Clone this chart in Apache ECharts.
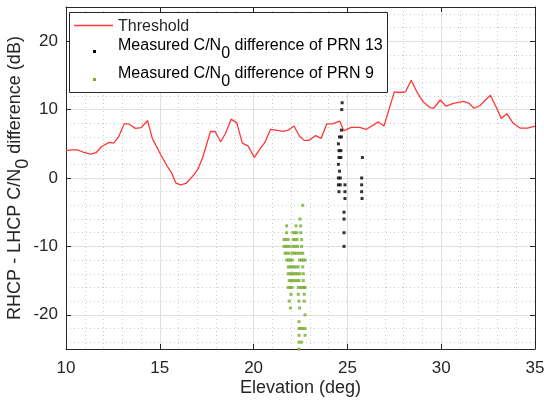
<!DOCTYPE html>
<html>
<head>
<meta charset="utf-8">
<script src="https://cdn.jsdelivr.net/npm/echarts@6.0.0/dist/echarts.min.js"></script>
<style>
  html, body { margin: 0; padding: 0; background: #fff; }
  #main { width: 544px; height: 400px; }
</style>
</head>
<body>
<div id="main"></div>
<script>
// threshold curve (elevation deg, dB)
var thresholdElev = [10.0, 10.3, 10.6, 10.9, 11.3, 11.6, 11.9, 12.3, 12.55, 12.8, 13.1, 13.35, 13.7, 14.0, 14.35, 14.6,
  15.05, 15.4, 15.6, 15.85, 16.1, 16.4, 16.6, 16.8, 17.05, 17.3, 17.7, 17.95, 18.25, 18.5, 18.8, 19.1, 19.4, 19.7,
  20.04, 20.35, 20.6, 20.9, 21.2, 21.55, 21.85, 22.15, 22.45, 22.7, 22.95, 23.3, 23.6, 23.9, 24.2, 24.6, 24.8,
  25.2, 25.65, 26.0, 26.65, 26.95, 27.5, 27.8, 28.1, 28.4, 28.7, 29.05, 29.4, 29.6, 29.95, 30.26, 30.65, 31.18,
  31.5, 31.75, 32.07, 32.62, 32.96, 33.2, 33.5, 33.84, 34.2, 34.6, 35.0];
var thresholdDiff = [4.0, 4.1, 4.1, 3.8, 3.5, 3.7, 4.6, 5.2, 5.1, 6.0, 7.9, 7.9, 7.25, 7.35, 8.4, 5.8,
  3.4, 1.7, 0.9, -0.7, -1.0, -0.8, -0.2, 0.4, 1.4, 3.1, 6.8, 6.8, 5.3, 6.5, 8.6, 8.1, 5.1, 4.7,
  3.0, 4.3, 5.2, 7.1, 7.0, 6.8, 7.0, 7.6, 6.1, 5.5, 5.5, 6.2, 5.8, 7.9, 7.9, 8.3, 6.9,
  7.4, 7.4, 7.1, 8.2, 7.6, 12.6, 12.5, 12.6, 14.3, 12.6, 11.1, 10.3, 10.2, 11.4, 10.5, 10.9, 11.2,
  10.9, 10.2, 10.6, 12.1, 10.2, 8.7, 9.4, 8.0, 7.3, 7.3, 7.6];

// PRN 13 measured difference
var prn13Elev = [24.72, 24.7, 24.68, 24.58, 24.68, 24.52, 24.55, 24.65, 24.55, 24.65, 25.8, 24.52, 24.58, 24.52, 24.62,
  25.76, 24.52, 24.62, 24.87, 25.76, 24.55, 24.87, 25.76, 24.87, 25.78, 24.82, 24.82, 24.82, 24.82];
var prn13Diff = [11, 10, 7, 6, 6, 5, 4, 4, 3, 3, 3, 2, 1, 0, 0,
  0, -1, -1, -1, -1, -2, -2, -2, -3, -3, -5, -6, -8, -10];

// PRN 9 measured difference, one row per dB level
var prn9Levels = [-4, -6, -7, -8, -9, -10, -11, -12, -13, -14, -15, -16, -17, -18, -19, -20, -21, -22, -23, -24, -25];
var prn9ElevRows = [
  [22.62],
  [22.47],
  [21.76, 22.26, 22.51],
  [21.76, 22.1, 22.2, 22.3, 22.51],
  [21.62, 21.72, 21.85, 22.12, 22.22, 22.32, 22.56],
  [21.62, 21.72, 21.82, 21.94, 22.12, 22.22, 22.35, 22.56],
  [21.68, 21.78, 21.9, 22.08, 22.18, 22.28, 22.4, 22.52, 22.62],
  [21.76, 21.86, 21.96, 22.06, 22.45, 22.55, 22.65, 22.74],
  [21.85, 21.95, 22.05, 22.15, 22.25, 22.38, 22.62],
  [21.85, 21.95, 22.05, 22.15, 22.25, 22.35, 22.47, 22.65],
  [21.9, 22.0, 22.1, 22.2, 22.32, 22.42, 22.65],
  [21.85, 21.95, 22.05, 22.38, 22.48, 22.58, 22.68, 22.74],
  [21.99, 22.38, 22.7],
  [21.9, 22.42, 22.7],
  [21.96, 22.45],
  [22.74],
  [22.42],
  [22.42, 22.52, 22.62, 22.74],
  [22.42, 22.74],
  [22.42, 22.56],
  [22.42]
];

var xTicks = [10, 15, 20, 25, 30, 35];

var zip = function (xs, ys) {
  var out = [];
  for (var i = 0; i < xs.length; i++) out.push([xs[i], ys[i]]);
  return out;
};
var prn9Data = [];
for (var r = 0; r < prn9Levels.length; r++) {
  for (var k = 0; k < prn9ElevRows[r].length; k++) prn9Data.push([prn9ElevRows[r][k], prn9Levels[r]]);
}

var ink = '#262626';
var font = 'Liberation Sans, Arial, sans-serif';
var majorGrid = { show: true, lineStyle: { color: '#dfdfdf', width: 1 } };
var minorGrid = { show: true, lineStyle: { color: '#cccccc', width: 1, type: [1, 3] } };
// MATLAB-like subscript: same size, shifted down by 8px
var subRich = function (size) {
  return {
    a: { fontSize: size, lineHeight: size, padding: [0, 0, 8, 0], fontFamily: font, color: ink },
    s: { fontSize: size, lineHeight: size, padding: [8, 0, 0, 0], fontFamily: font, color: ink }
  };
};
var edge = { show: true, onZero: false, lineStyle: { color: ink } };
var tick = { inside: true, length: 5, lineStyle: { color: ink } };

var option = {
  animation: false,
  backgroundColor: '#fff',
  grid: { left: 66, right: 9, top: 7, bottom: 51, outerBoundsMode: 'none', containLabel: false },
  xAxis: [{
    type: 'value', min: xTicks[0], max: xTicks[xTicks.length - 1], interval: 5,
    name: 'Elevation (deg)', nameLocation: 'middle', nameGap: 30, nameMoveOverlap: false,
    nameTextStyle: { fontSize: 18, fontFamily: font, color: ink },
    axisLine: edge, axisTick: tick,
    axisLabel: { fontSize: 17, fontFamily: font, color: ink, margin: 11 },
    splitLine: majorGrid,
    minorTick: { show: false, splitNumber: 5 },
    minorSplitLine: minorGrid
  }, {
    type: 'value', position: 'top', min: 10, max: 35, interval: 5,
    axisLine: edge, axisTick: tick,
    axisLabel: { show: false }, splitLine: { show: false }
  }],
  yAxis: [{
    type: 'value', min: -25, max: 25, splitNumber: 5,
    name: '{a|RHCP - LHCP C/N}{s|0}{a| difference (dB)}', nameLocation: 'middle', nameGap: 38, nameMoveOverlap: false,
    nameTextStyle: { rich: subRich(18) },
    axisLine: edge, axisTick: tick,
    axisLabel: { fontSize: 17, fontFamily: font, color: ink, margin: 8, showMinLabel: false, showMaxLabel: false },
    splitLine: majorGrid,
    minorTick: { show: false, splitNumber: 5 },
    minorSplitLine: minorGrid
  }, {
    type: 'value', position: 'right', min: -25, max: 25, splitNumber: 5,
    axisLine: edge, axisTick: tick,
    axisLabel: { show: false }, splitLine: { show: false }
  }],
  series: [{
    name: 'Threshold', type: 'line', data: zip(thresholdElev, thresholdDiff),
    showSymbol: false, symbol: 'none', lineStyle: { color: '#ff3838', width: 1.3 }, z: 3
  }, {
    name: 'PRN 13', type: 'scatter', data: zip(prn13Elev, prn13Diff),
    symbol: 'rect', symbolSize: 3, itemStyle: { color: '#000' }, z: 4
  }, {
    name: 'PRN 9', type: 'scatter', data: prn9Data,
    symbol: 'rect', symbolSize: 3, itemStyle: { color: '#77ac30' }, z: 4
  }],
  graphic: [
    { type: 'rect', z: 100, shape: { x: 69.5, y: 12.5, width: 318, height: 80 }, style: { fill: '#fff', stroke: ink, lineWidth: 1 } },
    { type: 'line', z: 101, shape: { x1: 74, y1: 25.5, x2: 113, y2: 25.5 }, style: { stroke: '#ff3838', lineWidth: 1.3 } },
    { type: 'text', z: 101, x: 118, y: 27, style: { text: 'Threshold', font: '16px ' + font, fill: ink, verticalAlign: 'middle' } },
    { type: 'rect', z: 101, shape: { x: 93, y: 50, width: 3, height: 3 }, style: { fill: '#000' } },
    { type: 'text', z: 101, x: 118, y: 42, style: { text: '{a|Measured C/N}{s|0}{a| difference of PRN 13}', rich: subRich(16), verticalAlign: 'top' } },
    { type: 'rect', z: 101, shape: { x: 93, y: 78, width: 3, height: 3 }, style: { fill: '#77ac30' } },
    { type: 'text', z: 101, x: 118, y: 70, style: { text: '{a|Measured C/N}{s|0}{a| difference of PRN 9}', rich: subRich(16), verticalAlign: 'top' } }
  ]
};

echarts.init(document.getElementById('main')).setOption(option);
</script>
</body>
</html>
